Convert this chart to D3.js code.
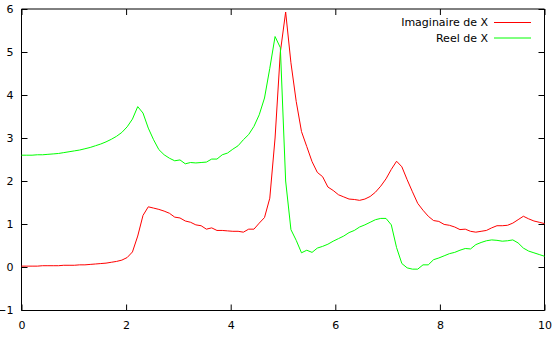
<!DOCTYPE html>
<html>
<head>
<meta charset="utf-8">
<script src="https://cdn.jsdelivr.net/npm/d3@7.9.0/dist/d3.min.js"></script>
<style>
  body { margin: 0; background: #fff; }
  svg { display: block; }
  text { font-family: "DejaVu Sans", sans-serif; font-size: 11px; fill: #000; }
</style>
</head>
<body>
<svg id="chart" width="555" height="338"></svg>
<script>
// 100 samples evenly spread over [0, 10]
const sampleCount = 100;
const xTicks = [0, 2, 4, 6, 8, 10];
const yTicks = [-1, 0, 1, 2, 3, 4, 5, 6];

const seriesNames = ['Imaginaire de X', 'Reel de X'];

const imagValues = [
  0.02, 0.02, 0.02, 0.02, 0.03, 0.03, 0.03, 0.03, 0.04, 0.04,
  0.04, 0.05, 0.05, 0.06, 0.07, 0.08, 0.09, 0.11, 0.13, 0.16,
  0.22, 0.35, 0.72, 1.20, 1.40, 1.37, 1.34, 1.30, 1.25, 1.16,
  1.14, 1.07, 1.04, 0.98, 0.96, 0.88, 0.91, 0.85, 0.85, 0.84,
  0.83, 0.83, 0.81, 0.88, 0.88, 1.02, 1.15, 1.60, 3.00, 5.00,
  5.93, 4.75, 3.85, 3.15, 2.80, 2.45, 2.20, 2.10, 1.86, 1.78,
  1.68, 1.63, 1.58, 1.57, 1.55, 1.58, 1.64, 1.74, 1.88, 2.05,
  2.27, 2.46, 2.33, 2.03, 1.75, 1.48, 1.32, 1.18, 1.08, 1.06,
  0.99, 0.97, 0.93, 0.87, 0.88, 0.83, 0.81, 0.83, 0.85, 0.91,
  0.96, 0.96, 0.97, 1.02, 1.10, 1.18, 1.12, 1.07, 1.04, 1.01
];

const realValues = [
  2.60, 2.60, 2.60, 2.61, 2.61, 2.62, 2.63, 2.64, 2.66, 2.68,
  2.70, 2.72, 2.75, 2.78, 2.82, 2.86, 2.91, 2.97, 3.04, 3.13,
  3.26, 3.44, 3.73, 3.58, 3.23, 2.96, 2.73, 2.61, 2.53, 2.47,
  2.49, 2.40, 2.43, 2.42, 2.43, 2.44, 2.51, 2.51, 2.61, 2.65,
  2.74, 2.82, 2.96, 3.08, 3.27, 3.54, 3.93, 4.62, 5.36, 5.10,
  2.00, 0.87, 0.62, 0.33, 0.39, 0.34, 0.44, 0.48, 0.53, 0.60,
  0.66, 0.72, 0.80, 0.85, 0.93, 0.98, 1.04, 1.10, 1.13, 1.13,
  0.98, 0.45, 0.08, -0.02, -0.05, -0.05, 0.05, 0.05, 0.17, 0.21,
  0.26, 0.31, 0.34, 0.39, 0.43, 0.42, 0.52, 0.57, 0.61, 0.63,
  0.62, 0.60, 0.61, 0.63, 0.56, 0.44, 0.37, 0.33, 0.29, 0.25
];

const colors = ['#ff0000', '#00ff00'];

const svg = d3.select('#chart');
const plotLeft = 21.5, plotRight = 544.5, plotTop = 9, plotBottom = 310;

const x = d3.scaleLinear().domain([0, 10]).range([plotLeft, plotRight]);
const y = d3.scaleLinear().domain([-1, 6]).range([plotBottom, plotTop]);

const xs = d3.range(sampleCount).map((i) => (i * 10) / (sampleCount - 1));

// axes, ticks pointing inward on all four sides
const axisStyle = (g) => {
  g.select('.domain').remove();
  g.selectAll('.tick line').attr('stroke', '#000');
  g.attr('font-size', null).attr('font-family', null);
};

svg.append('g')
  .attr('transform', `translate(0,${plotBottom + 0.5})`)
  .call(d3.axisBottom(x).tickValues(xTicks).tickSize(-6).tickPadding(11).tickFormat(d3.format('d')))
  .call(axisStyle);

svg.append('g')
  .attr('transform', `translate(0,${plotTop})`)
  .call(d3.axisTop(x).tickValues(xTicks).tickSize(-6).tickFormat(''))
  .call(axisStyle);

svg.append('g')
  .attr('transform', `translate(${plotLeft},0)`)
  .call(d3.axisLeft(y).tickValues(yTicks).tickSize(-6).tickPadding(8).tickFormat(d3.format('d')))
  .call(axisStyle);

svg.append('g')
  .attr('transform', `translate(${plotRight},0)`)
  .call(d3.axisRight(y).tickValues(yTicks).tickSize(-6).tickFormat(''))
  .call(axisStyle);

// frame
svg.append('path')
  .attr('d', `M${plotLeft},${plotTop}V${plotBottom + 0.5}H${plotRight}V${plotTop}`)
  .attr('fill', 'none')
  .attr('stroke', '#000');
svg.append('line')
  .attr('x1', plotLeft).attr('x2', plotRight)
  .attr('y1', plotTop).attr('y2', plotTop)
  .attr('stroke', '#000');

const line = d3.line()
  .x((d) => x(d[0]))
  .y((d) => y(d[1]));

[imagValues, realValues].forEach((vals, k) => {
  svg.append('path')
    .datum(xs.map((xv, i) => [xv, vals[i]]))
    .attr('fill', 'none')
    .attr('stroke', colors[k])
    .attr('stroke-width', 1)
    .attr('d', line);
});

// legend
const legend = svg.append('g').attr('transform', 'translate(0,22.5)');
seriesNames.forEach((name, k) => {
  const row = legend.append('g').attr('transform', `translate(0,${k * 15.5})`);
  row.append('text')
    .attr('x', 488)
    .attr('dy', '0.35em')
    .attr('text-anchor', 'end')
    .text(name);
  row.append('line')
    .attr('x1', 494).attr('x2', 531)
    .attr('stroke', colors[k]);
});
</script>
</body>
</html>
